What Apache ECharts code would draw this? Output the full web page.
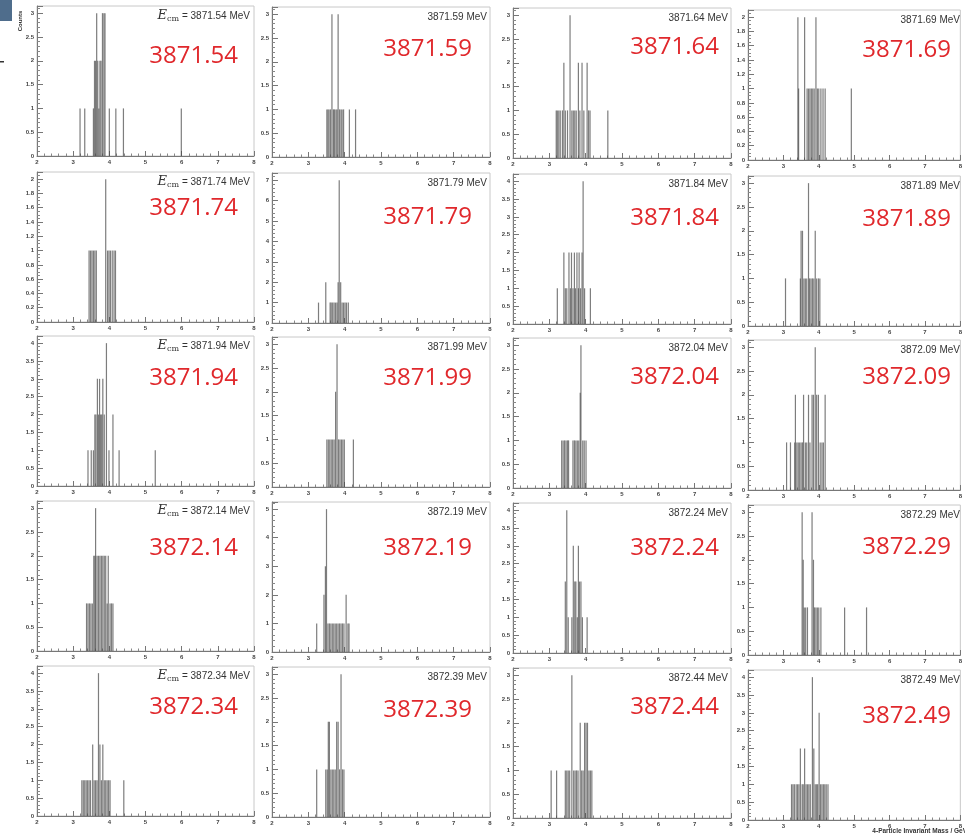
<!DOCTYPE html>
<html><head><meta charset="utf-8">
<script src="https://cdn.jsdelivr.net/npm/echarts@6/dist/echarts.min.js"></script>
<style>html,body{margin:0;padding:0;background:#fff}#c{width:965px;height:835px}</style>
</head><body><div id="c"></div>
<script>
// Beam energies (MeV) for each panel, row by row
const energyLabels = ['3871.54','3871.59','3871.64','3871.69','3871.74','3871.79','3871.84','3871.89',
  '3871.94','3871.99','3872.04','3872.09','3872.14','3872.19','3872.24','3872.29',
  '3872.34','3872.39','3872.44','3872.49'];
// x axis: 4-particle invariant mass range (GeV)
const massMin = 2, massMax = 8;
const axisTitleX = '4-Particle Invariant Mass / GeV';
const axisTitleY = 'Counts';

// Histogram contents: [mass (GeV), counts]
const h3871_54 = [[3.19,1],[3.32,1],[3.56,1],[3.59,2],[3.62,2],[3.65,3],[3.68,2],[3.71,1],[3.74,2],[3.77,2],[3.81,3],[3.85,3],[3.88,3],[4.00,1],[4.18,1],[4.39,1],[5.99,1]];
const h3871_59 = [[3.51,1],[3.54,1],[3.57,1],[3.61,1],[3.65,3],[3.69,1],[3.72,1],[3.76,1],[3.79,1],[3.82,3],[3.86,1],[3.90,1],[3.93,1],[3.97,1],[4.13,1],[4.30,1]];
const h3871_64 = [[3.19,1],[3.22,1],[3.26,1],[3.30,1],[3.36,1],[3.40,2],[3.44,1],[3.50,1],[3.57,3],[3.62,1],[3.66,1],[3.70,1],[3.74,1],[3.80,2],[3.84,1],[3.90,2],[3.95,1],[4.04,2],[4.08,1],[4.12,1],[4.61,1]];
const h3871_69 = [[3.41,2],[3.43,1],[3.60,2],[3.67,1],[3.71,1],[3.75,1],[3.79,1],[3.83,1],[3.87,1],[3.92,2],[3.96,1],[4.00,1],[4.06,1],[4.12,1],[4.18,1],[4.92,1]];
const h3871_74 = [[3.44,1],[3.48,1],[3.52,1],[3.56,1],[3.60,1],[3.64,1],[3.90,2],[3.95,1],[3.99,1],[4.03,1],[4.08,1],[4.13,1],[4.17,1]];
const h3871_79 = [[3.28,1],[3.48,2],[3.60,1],[3.63,1],[3.67,1],[3.71,1],[3.75,1],[3.79,1],[3.82,2],[3.85,7],[3.89,2],[3.93,1],[3.97,1],[4.01,1],[4.05,1],[4.10,1]];
const h3871_84 = [[3.22,1],[3.40,2],[3.44,1],[3.48,1],[3.54,2],[3.58,1],[3.61,2],[3.65,1],[3.69,2],[3.72,1],[3.76,2],[3.80,1],[3.82,2],[3.86,1],[3.90,2],[3.93,4],[3.97,1],[4.13,1]];
const h3871_89 = [[3.06,1],[3.48,1],[3.50,2],[3.54,2],[3.58,1],[3.62,1],[3.66,1],[3.71,3],[3.74,1],[3.78,1],[3.82,1],[3.86,1],[3.90,2],[3.94,1],[3.99,1],[4.03,1]];
const h3871_94 = [[3.41,1],[3.50,1],[3.56,1],[3.60,2],[3.63,2],[3.67,3],[3.70,2],[3.73,3],[3.76,2],[3.79,2],[3.82,3],[3.86,2],[3.92,4],[3.99,1],[4.10,2],[4.27,1],[5.27,1]];
const h3871_99 = [[3.51,1],[3.55,1],[3.59,1],[3.63,1],[3.67,1],[3.71,1],[3.75,2],[3.79,3],[3.83,1],[3.87,1],[3.91,1],[3.95,1],[3.99,1],[4.24,1]];
const h3872_04 = [[3.34,1],[3.38,1],[3.42,1],[3.46,1],[3.50,1],[3.53,1],[3.65,1],[3.69,1],[3.73,1],[3.77,1],[3.81,1],[3.85,2],[3.87,3],[3.92,1],[3.96,1],[4.01,1]];
const h3872_09 = [[3.09,1],[3.20,1],[3.32,1],[3.34,2],[3.38,1],[3.42,1],[3.46,1],[3.50,1],[3.54,1],[3.57,2],[3.62,1],[3.66,1],[3.71,2],[3.75,1],[3.81,2],[3.85,2],[3.90,3],[3.94,2],[3.99,2],[4.04,1],[4.09,1],[4.13,1],[4.18,2]];
const h3872_14 = [[3.37,1],[3.41,1],[3.45,1],[3.49,1],[3.53,1],[3.57,2],[3.60,2],[3.62,3],[3.66,2],[3.70,2],[3.74,2],[3.78,2],[3.82,2],[3.86,2],[3.90,2],[3.94,1],[3.97,2],[4.02,1],[4.06,1],[4.10,1]];
const h3872_19 = [[3.23,1],[3.43,2],[3.47,3],[3.50,5],[3.54,1],[3.58,1],[3.62,1],[3.66,1],[3.70,1],[3.74,1],[3.78,1],[3.82,1],[3.86,1],[3.90,1],[3.94,1],[3.98,1],[4.04,2],[4.09,1],[4.12,1]];
const h3872_24 = [[3.44,2],[3.48,4],[3.52,1],[3.62,1],[3.66,3],[3.70,2],[3.73,2],[3.77,1],[3.80,3],[3.83,2],[3.87,2],[3.91,1],[4.04,1]];
const h3872_29 = [[3.53,3],[3.56,2],[3.59,1],[3.63,1],[3.68,1],[3.81,3],[3.85,2],[3.88,1],[3.92,1],[3.96,1],[4.00,1],[4.06,1],[4.73,1],[5.35,1]];
const h3872_34 = [[3.24,1],[3.28,1],[3.32,1],[3.36,1],[3.40,1],[3.44,1],[3.48,1],[3.54,2],[3.58,1],[3.62,1],[3.66,1],[3.70,4],[3.74,2],[3.78,1],[3.82,2],[3.86,1],[3.90,1],[3.94,1],[3.98,1],[4.02,1],[4.40,1]];
const h3872_39 = [[3.23,1],[3.48,1],[3.52,1],[3.55,2],[3.58,2],[3.62,1],[3.66,1],[3.70,1],[3.74,1],[3.78,2],[3.82,2],[3.86,1],[3.90,3],[3.94,1],[3.98,1]];
const h3872_44 = [[3.05,1],[3.20,1],[3.44,1],[3.48,1],[3.52,1],[3.56,1],[3.62,3],[3.67,1],[3.71,1],[3.75,1],[3.79,1],[3.85,2],[3.89,1],[3.93,1],[3.97,2],[4.01,2],[4.05,2],[4.09,1],[4.13,1],[4.17,1]];
const h3872_49 = [[3.23,1],[3.27,1],[3.31,1],[3.36,1],[3.40,1],[3.44,1],[3.48,2],[3.53,1],[3.56,1],[3.60,2],[3.64,1],[3.68,1],[3.72,1],[3.76,1],[3.82,4],[3.86,2],[3.90,1],[3.94,1],[3.97,1],[4.01,3],[4.05,1],[4.09,1],[4.13,1],[4.17,1],[4.21,1],[4.26,1]];

const histograms = [h3871_54,h3871_59,h3871_64,h3871_69,h3871_74,h3871_79,h3871_84,h3871_89,
  h3871_94,h3871_99,h3872_04,h3872_09,h3872_14,h3872_19,h3872_24,h3872_29,
  h3872_34,h3872_39,h3872_44,h3872_49];

// ---- layout (positions only) ----
const colLeft = [37, 272, 513, 748];
const colWidth = [217, 218, 218, 215];
const rowTop = [6, 172, 336, 501, 666];
const colDy = [0, 1, 2, 4];
const H = 150;
const redDy = [[50,42,39,40],[36,44,44,43],[42,41,39,37],[47,46,45,42],[41,43,39,46]];
const redDx = [-16, -18, -12, -12];

const grids = [], xAxes = [], yAxes = [], series = [], graphics = [];
histograms.forEach((h, i) => {
  const r = Math.floor(i / 4), c = i % 4;
  const top = rowTop[r] + colDy[c], left = colLeft[c], w = colWidth[c];
  grids.push({left, top, width: w, height: H, show: true, borderColor: '#c8c8c8', borderWidth: 1, backgroundColor: '#fff'});
  const peak = Math.max(...h.map(d => d[1]));
  const interval = peak <= 2 ? 0.2 : (peak <= 4 ? 0.5 : 1);
  xAxes.push({type: 'value', gridIndex: i, min: massMin, max: massMax, interval: 1,
    axisLine: {show: true, onZero: false, lineStyle: {color: '#777', width: 1}},
    axisTick: {show: true, inside: true, length: 5, lineStyle: {color: '#777'}},
    minorTick: {show: true, splitNumber: 5, length: 2.5, lineStyle: {color: '#888'}},
    splitLine: {show: false},
    axisLabel: {fontSize: 6, color: '#444', margin: 3, fontFamily: 'Liberation Sans', fontWeight: 'bold'}});
  yAxes.push({type: 'value', gridIndex: i, min: 0, max: peak * 1.05, interval,
    axisLine: {show: true, lineStyle: {color: '#777', width: 1}},
    axisTick: {show: true, inside: true, length: 6, lineStyle: {color: '#777'}},
    minorTick: {show: true, splitNumber: interval === 0.2 ? 4 : 5, length: 3, lineStyle: {color: '#888'}},
    splitLine: {show: false},
    axisLabel: {fontSize: 6, color: '#444', margin: 3, showMaxLabel: false, fontFamily: 'Liberation Sans', fontWeight: 'bold'}});
  series.push({type: 'bar', xAxisIndex: i, yAxisIndex: i, data: h, barWidth: 1.2,
    itemStyle: {color: 'rgba(75,75,75,0.72)'}, silent: true});

  const right = left + w;
  if (c === 0) {
    graphics.push({type: 'text', x: right - 4, y: top + 10, silent: true, style: {
      text: '{e|E}{s|cm}{t| = ' + energyLabels[i] + ' MeV}', align: 'right', verticalAlign: 'middle',
      rich: {
        e: {fontFamily: 'DejaVu Serif', fontStyle: 'italic', fontSize: 13, fill: '#333', verticalAlign: 'middle'},
        s: {fontFamily: 'DejaVu Serif', fontSize: 8, fill: '#333', padding: [6, 0, 0, 0]},
        t: {fontFamily: 'Liberation Sans', fontSize: 10, fill: '#333'}
      }}});
  } else {
    graphics.push({type: 'text', x: right - 3, y: top + 10, silent: true, style: {
      text: energyLabels[i] + ' MeV', align: 'right', verticalAlign: 'middle',
      font: '10px "Liberation Sans"', fill: '#333'}});
  }
  graphics.push({type: 'text', x: right + redDx[c], y: top + redDy[r][c], silent: true, style: {
    text: energyLabels[i], align: 'right', verticalAlign: 'middle',
    font: '24px "Open Sans"', fill: '#e0282c'}});
});

graphics.push({type: 'text', x: 20, y: 21, rotation: Math.PI / 2, silent: true, style: {
  text: axisTitleY, align: 'center', verticalAlign: 'middle', font: 'bold 6px "Liberation Sans"', fill: '#333'}});
graphics.push({type: 'text', x: 967, y: 831, silent: true, style: {
  text: axisTitleX, align: 'right', verticalAlign: 'middle', font: 'bold 6.5px "Liberation Sans"', fill: '#333'}});
// window-edge fragment at top-left of the screenshot
graphics.push({type: 'rect', silent: true, shape: {x: 0, y: 0, width: 12, height: 21}, style: {fill: '#4f6d8c'}});
graphics.push({type: 'rect', silent: true, shape: {x: 0, y: 61, width: 4, height: 1.5}, style: {fill: '#333'}});

const chart = echarts.init(document.getElementById('c'), null, {renderer: 'canvas'});
chart.setOption({
  animation: false,
  backgroundColor: '#fff',
  grid: grids, xAxis: xAxes, yAxis: yAxes, series, graphic: graphics
});
</script>
</body></html>
